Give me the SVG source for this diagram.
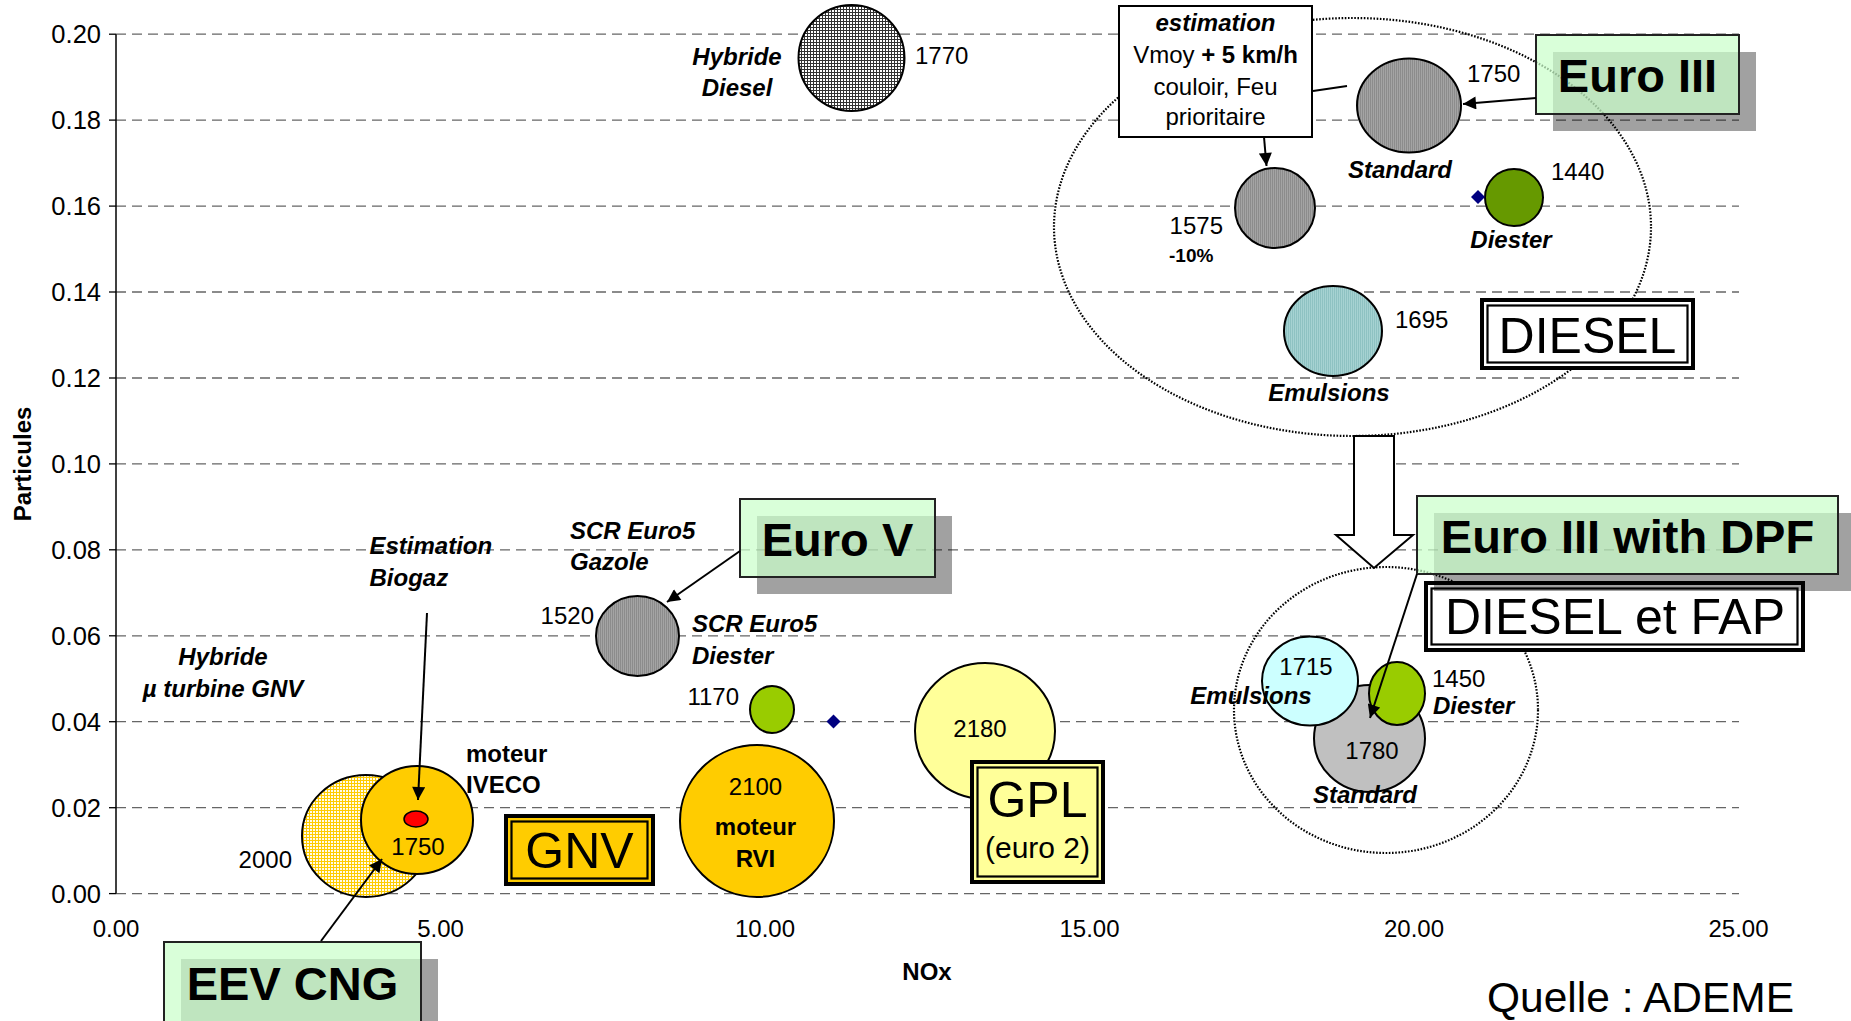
<svg xmlns="http://www.w3.org/2000/svg" width="1851" height="1021" viewBox="0 0 1851 1021">
<style>
text{font-family:'Liberation Sans',Arial,sans-serif;font-size:24px;fill:#000}
.b{font-weight:bold}
.bi{font-weight:bold;font-style:italic}
.m{text-anchor:middle}
.e{text-anchor:end}
.tk{font-size:25.5px}
.grid{stroke:#666;stroke-width:1.3;stroke-dasharray:10 6;fill:none}
.bub{stroke:#000;stroke-width:2}
.enc{fill:none;stroke:#000;stroke-width:2.2;stroke-dasharray:1.6 1.6}
.arr{stroke:#000;stroke-width:2;fill:none}
.shadow{fill:#000;fill-opacity:0.37}
.gbox{fill:rgb(202,255,202);fill-opacity:0.72;stroke:#222;stroke-width:2}
.big{font-size:47px;font-weight:bold}
.lab{font-size:50px}
.dbo{stroke:#000;stroke-width:4}
.dbi{fill:none;stroke:#000;stroke-width:2.2}
</style>
<defs>
<pattern id="pDiesel" width="3" height="3" patternUnits="userSpaceOnUse"><rect width="3" height="3" fill="#fff"/><rect width="3" height="1" fill="#333"/><rect width="1" height="3" fill="#333"/></pattern>
<pattern id="pGray" width="2" height="2" patternUnits="userSpaceOnUse"><rect width="2" height="2" fill="#a4a4a4"/><rect width="1" height="2" fill="#8c8c8c"/></pattern>
<pattern id="pTeal" width="2" height="2" patternUnits="userSpaceOnUse"><rect width="2" height="2" fill="#a6d2d2"/><rect width="1" height="2" fill="#8ec2c2"/></pattern>
<pattern id="pYel" width="3" height="3" patternUnits="userSpaceOnUse"><rect width="3" height="3" fill="#fffbe8"/><rect width="3" height="1" fill="#ffcc00"/><rect width="1" height="3" fill="#ffcc00"/></pattern>
<marker id="ah" viewBox="0 0 10 10" refX="10" refY="5" markerWidth="15" markerHeight="13" markerUnits="userSpaceOnUse" orient="auto"><path d="M0,0 L10,5 L0,10 z" fill="#000"/></marker>
</defs>

<g id="axes">
<g class="grid">
<line x1="116" y1="34.2" x2="1739" y2="34.2"/>
<line x1="116" y1="120.1" x2="1739" y2="120.1"/>
<line x1="116" y1="206.1" x2="1739" y2="206.1"/>
<line x1="116" y1="292" x2="1739" y2="292"/>
<line x1="116" y1="378" x2="1739" y2="378"/>
<line x1="116" y1="463.9" x2="1739" y2="463.9"/>
<line x1="116" y1="549.8" x2="1739" y2="549.8"/>
<line x1="116" y1="635.8" x2="1739" y2="635.8"/>
<line x1="116" y1="721.7" x2="1739" y2="721.7"/>
<line x1="116" y1="807.7" x2="1739" y2="807.7"/>
<line x1="116" y1="893.6" x2="1739" y2="893.6"/>
</g>
<line x1="116" y1="34.2" x2="116" y2="893.6" stroke="#000" stroke-width="1.5"/>
<g stroke="#000" stroke-width="1.3">
<line x1="109" y1="34.2" x2="116" y2="34.2"/><line x1="109" y1="120.1" x2="116" y2="120.1"/>
<line x1="109" y1="206.1" x2="116" y2="206.1"/><line x1="109" y1="292" x2="116" y2="292"/>
<line x1="109" y1="378" x2="116" y2="378"/><line x1="109" y1="463.9" x2="116" y2="463.9"/>
<line x1="109" y1="549.8" x2="116" y2="549.8"/><line x1="109" y1="635.8" x2="116" y2="635.8"/>
<line x1="109" y1="721.7" x2="116" y2="721.7"/><line x1="109" y1="807.7" x2="116" y2="807.7"/>
<line x1="109" y1="893.6" x2="116" y2="893.6"/>
</g>
<g>
<text class="e tk" x="101" y="43.2">0.20</text>
<text class="e tk" x="101" y="129.1">0.18</text>
<text class="e tk" x="101" y="215.1">0.16</text>
<text class="e tk" x="101" y="301">0.14</text>
<text class="e tk" x="101" y="387">0.12</text>
<text class="e tk" x="101" y="472.9">0.10</text>
<text class="e tk" x="101" y="558.8">0.08</text>
<text class="e tk" x="101" y="644.8">0.06</text>
<text class="e tk" x="101" y="730.7">0.04</text>
<text class="e tk" x="101" y="816.7">0.02</text>
<text class="e tk" x="101" y="902.6">0.00</text>
</g>
<text class="m" x="116" y="937">0.00</text>
<text class="m" x="440.5" y="937">5.00</text>
<text class="m" x="765" y="937">10.00</text>
<text class="m" x="1089.5" y="937">15.00</text>
<text class="m" x="1414" y="937">20.00</text>
<text class="m" x="1738.5" y="937">25.00</text>
<text class="b m" x="927" y="980">NOx</text>
<text class="b m" transform="translate(31,464) rotate(-90)">Particules</text>
</g>

<g id="encl-diesel"><ellipse class="enc" cx="1352.5" cy="227" rx="298.5" ry="209"/></g>
<g id="encl-fap"><ellipse class="enc" cx="1386" cy="710" rx="152" ry="143"/></g>

<g id="hybride-diesel">
<circle class="bub" cx="851.5" cy="58" r="53" fill="url(#pDiesel)"/>
<text class="bi m" x="737" y="65">Hybride</text>
<text class="bi m" x="737" y="96">Diesel</text>
<text x="915" y="64">1770</text>
</g>

<g id="euro3-standard">
<ellipse class="bub" cx="1409" cy="105.5" rx="52" ry="47" fill="url(#pGray)"/>
<text x="1467" y="81.5">1750</text>
<text class="bi m" x="1400" y="178">Standard</text>
</g>

<g id="euro3-estim">
<circle class="bub" cx="1275" cy="208" r="40" fill="url(#pGray)"/>
<text class="e" x="1223" y="234">1575</text>
<text class="b" x="1169" y="262" style="font-size:19px">-10%</text>
</g>

<g id="euro3-diester">
<ellipse class="bub" cx="1514" cy="197.5" rx="29" ry="28.5" fill="#669900"/>
<path d="M1478,190 L1485,197 L1478,204 L1471,197 z" fill="#000080"/>
<text x="1551" y="180">1440</text>
<text class="bi m" x="1511" y="248">Diester</text>
</g>

<g id="euro3-emulsions">
<ellipse class="bub" cx="1333" cy="331" rx="49" ry="45" fill="url(#pTeal)"/>
<text x="1395" y="328">1695</text>
<text class="bi m" x="1329" y="401">Emulsions</text>
</g>

<g id="estimation-box">
<rect x="1119" y="6" width="193" height="131" fill="#fff" stroke="#000" stroke-width="2"/>
<text class="bi m" x="1215.5" y="31">estimation</text>
<text class="m" x="1215.5" y="63">Vmoy <tspan class="b">+ 5 km/h</tspan></text>
<text class="m" x="1215.5" y="95">couloir, Feu</text>
<text class="m" x="1215.5" y="125">prioritaire</text>
</g>

<g id="diesel-label">
<rect class="dbo" x="1482" y="300" width="211" height="68" fill="#fff"/>
<rect class="dbi" x="1487.5" y="305.5" width="200" height="57"/>
<text class="lab m" x="1587.5" y="353">DIESEL</text>
</g>

<g id="hybride-gnv">
<ellipse class="bub" cx="366" cy="836" rx="64" ry="61" fill="url(#pYel)"/>
<text class="e" x="292" y="868">2000</text>
<text class="bi m" x="223" y="665">Hybride</text>
<text class="bi m" x="223" y="697">µ turbine GNV</text>
</g>

<g id="iveco">
<ellipse class="bub" cx="417" cy="820" rx="56" ry="54" fill="#ffcc00"/>
<ellipse cx="416" cy="819" rx="12" ry="8" fill="#ff0000" stroke="#000" stroke-width="1.5"/>
<text class="m" x="418" y="855">1750</text>
<text class="b" x="466" y="762">moteur</text>
<text class="b" x="466" y="793">IVECO</text>
<text class="bi" x="369.5" y="554">Estimation</text>
<text class="bi" x="369.5" y="586">Biogaz</text>
</g>

<g id="scr-euro5">
<ellipse class="bub" cx="637.5" cy="636" rx="41.5" ry="40" fill="url(#pGray)"/>
<text class="e" x="594" y="623.5">1520</text>
<text class="bi" x="570" y="538.5">SCR Euro5</text>
<text class="bi" x="570" y="569.5">Gazole</text>
<text class="bi" x="692" y="632">SCR Euro5</text>
<text class="bi" x="692" y="664">Diester</text>
</g>

<g id="gnv-diester">
<ellipse class="bub" cx="772" cy="709.5" rx="22" ry="23.5" fill="#99cc00"/>
<text class="e" x="739" y="705">1170</text>
<path d="M833.5,714.5 L840.5,721.5 L833.5,728.5 L826.5,721.5 z" fill="#000080"/>
</g>

<g id="rvi">
<ellipse class="bub" cx="757" cy="821" rx="77" ry="76" fill="#ffcc00"/>
<text class="m" x="755.5" y="794.5">2100</text>
<text class="b m" x="755.5" y="835">moteur</text>
<text class="b m" x="755.5" y="867">RVI</text>
</g>

<g id="gpl">
<ellipse class="bub" cx="985" cy="731" rx="70" ry="68" fill="#ffff99"/>
<text class="m" x="980" y="736.5">2180</text>
</g>

<g id="gnv-label">
<rect class="dbo" x="506" y="816" width="147" height="68" fill="#ffcc00"/>
<rect class="dbi" x="511.5" y="821.5" width="136" height="57"/>
<text class="lab m" x="579.5" y="868">GNV</text>
</g>

<g id="gpl-label">
<rect class="dbo" x="972" y="762" width="131" height="120" fill="#ffff99"/>
<rect class="dbi" x="977.5" y="767.5" width="120" height="109"/>
<text class="lab m" x="1037.5" y="817">GPL</text>
<text class="m" x="1037.5" y="858" style="font-size:30px">(euro 2)</text>
</g>

<g id="fap-standard">
<ellipse class="bub" cx="1369.5" cy="738.5" rx="55.5" ry="53.5" fill="#c0c0c0"/>
<text class="m" x="1372" y="759">1780</text>
</g>
<g id="fap-emulsions">
<ellipse class="bub" cx="1310" cy="681" rx="48" ry="44.6" fill="#ccffff"/>
<text class="m" x="1306" y="674.5">1715</text>
</g>
<g id="fap-diester">
<ellipse class="bub" cx="1397" cy="693.5" rx="28" ry="31.5" fill="#99cc00"/>
<text x="1432" y="687">1450</text>
<text class="bi" x="1433" y="714">Diester</text>
</g>
<g id="fap-labels">
<text class="bi m" x="1251" y="704">Emulsions</text>
<text class="bi m" x="1365" y="803">Standard</text>
</g>

<g id="block-arrow">
<path d="M1354,436 L1394,436 L1394,535 L1413,535 L1374,568 L1336,535 L1354,535 Z" fill="#fff" stroke="#000" stroke-width="2"/>
</g>

<g id="diesel-fap-label">
<rect class="dbo" x="1426" y="583" width="377" height="67" fill="#fff"/>
<rect class="dbi" x="1431.5" y="588.5" width="366" height="56"/>
<text class="lab m" x="1615" y="634">DIESEL et FAP</text>
</g>

<g id="euro3-label">
<rect class="shadow" x="1553" y="52" width="203" height="79"/>
<rect class="gbox" x="1536" y="35" width="203" height="79"/>
<text class="big m" x="1637.5" y="92">Euro III</text>
</g>

<g id="euro5-label">
<rect class="shadow" x="757" y="516" width="195" height="78"/>
<rect class="gbox" x="740" y="499" width="195" height="78"/>
<text class="big m" x="837.5" y="556">Euro V</text>
</g>

<g id="euro3dpf-label">
<rect class="shadow" x="1434" y="513" width="421" height="78"/>
<rect class="gbox" x="1417" y="496" width="421" height="78"/>
<text class="big m" x="1627.5" y="553">Euro III with DPF</text>
</g>

<g id="eev-label">
<rect class="shadow" x="181" y="959" width="257" height="80"/>
<rect class="gbox" x="164" y="942" width="257" height="90"/>
<text class="big m" x="292.5" y="1000">EEV CNG</text>
</g>

<g id="connectors">
<line class="arr" x1="427" y1="613" x2="418" y2="800" marker-end="url(#ah)"/>
<line class="arr" x1="321" y1="941" x2="382" y2="859" marker-end="url(#ah)"/>
<line class="arr" x1="740" y1="551" x2="667" y2="602" marker-end="url(#ah)"/>
<line class="arr" x1="1536" y1="98" x2="1463" y2="104" marker-end="url(#ah)"/>
<line class="arr" x1="1264" y1="137" x2="1266.5" y2="166" marker-end="url(#ah)"/>
<line class="arr" x1="1313" y1="91" x2="1347" y2="86" stroke-width="2.5"/>
<line class="arr" x1="1417" y1="574" x2="1370" y2="718" marker-end="url(#ah)"/>
</g>

<text x="1487" y="1012" style="font-size:42.5px">Quelle : ADEME</text>
</svg>
